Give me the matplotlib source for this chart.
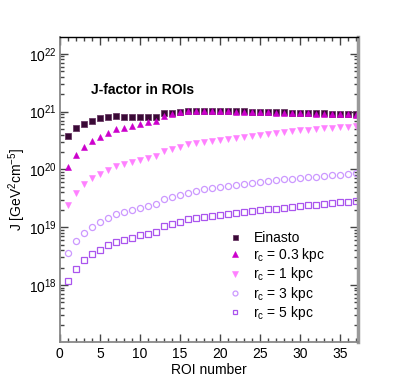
import numpy as np
import matplotlib
matplotlib.use('Agg')
import matplotlib.pyplot as plt
from matplotlib.ticker import LogLocator, MultipleLocator, NullFormatter

plt.rcParams['font.family'] = ['Liberation Sans', 'DejaVu Sans']
plt.rcParams['mathtext.fontset'] = 'custom'
plt.rcParams['mathtext.rm'] = 'Liberation Sans'
plt.rcParams['mathtext.it'] = 'Liberation Sans:italic'

# J-factor per ROI (GeV^2 cm^-5)
roi = np.arange(1, 38)
einasto = [3.85e20, 5.2e20, 6.2e20, 7.0e20, 7.6e20, 8.0e20, 8.3e20, 8.2e20, 8.1e20, 8.2e20,
           8.2e20, 8.2e20, 9.55e20, 9.6e20, 9.8e20, 1.03e21, 1.03e21, 1.03e21, 1.03e21, 1.03e21,
           1.02e21, 1.01e21, 1.01e21, 9.9e20, 9.9e20, 9.8e20, 9.7e20, 9.7e20, 9.5e20, 9.4e20,
           9.4e20, 9.3e20, 9.3e20, 9.2e20, 9.2e20, 9.05e20, 8.93e20]
rc03 = [1.1e20, 1.75e20, 2.4e20, 3.07e20, 3.65e20, 4.3e20, 4.97e20, 5.3e20, 5.6e20, 6.1e20,
        6.5e20, 6.75e20, 8.4e20, 9.0e20, 9.7e20, 1.01e21, 1.02e21, 1.02e21, 1.02e21, 1.02e21,
        1.01e21, 1.0e21, 1.0e21, 9.8e20, 9.8e20, 9.7e20, 9.6e20, 9.6e20, 9.4e20, 9.3e20,
        9.3e20, 9.2e20, 9.2e20, 9.1e20, 9.1e20, 9.0e20, 8.85e20]
rc1 = [2.43e19, 3.94e19, 5.5e19, 6.97e19, 8.4e19, 9.9e19, 1.14e20, 1.24e20, 1.32e20, 1.44e20,
       1.55e20, 1.68e20, 2.08e20, 2.25e20, 2.46e20, 2.72e20, 2.89e20, 3.01e20, 3.11e20, 3.26e20,
       3.41e20, 3.55e20, 3.70e20, 3.85e20, 4.01e20, 4.17e20, 4.29e20, 4.46e20, 4.58e20, 4.77e20,
       4.90e20, 5.03e20, 5.16e20, 5.30e20, 5.45e20, 5.52e20, 5.6e20]
rc3 = [3.56e18, 5.8e18, 7.9e18, 1.0e19, 1.23e19, 1.44e19, 1.67e19, 1.81e19, 1.96e19, 2.13e19,
       2.32e19, 2.5e19, 3.07e19, 3.35e19, 3.6e19, 3.95e19, 4.22e19, 4.55e19, 4.8e19, 5.0e19,
       5.2e19, 5.41e19, 5.63e19, 5.86e19, 6.02e19, 6.27e19, 6.44e19, 6.70e19, 6.88e19, 7.07e19,
       7.26e19, 7.46e19, 7.66e19, 7.87e19, 8.08e19, 8.30e19, 8.51e19]
rc5 = [1.19e18, 1.92e18, 2.65e18, 3.37e18, 4.06e18, 4.83e18, 5.6e18, 6.06e18, 6.49e18, 7.2e18,
       7.7e18, 8.2e18, 1.03e19, 1.13e19, 1.23e19, 1.37e19, 1.44e19, 1.51e19, 1.57e19, 1.65e19,
       1.71e19, 1.76e19, 1.84e19, 1.88e19, 1.96e19, 2.04e19, 2.10e19, 2.18e19, 2.24e19, 2.30e19,
       2.37e19, 2.46e19, 2.53e19, 2.60e19, 2.70e19, 2.77e19, 2.89e19]

fig = plt.figure(figsize=(3.99, 3.80), dpi=100)
ax = fig.add_axes([0.150, 0.101, 0.747, 0.802])

ax.plot(roi, einasto, ls='none', marker='s', ms=4.5, mfc='#3a0a36', mec='#6a3a66', mew=0.6, label='Einasto')
ax.plot(roi, rc03, ls='none', marker='^', ms=4.8, mfc='#cc00cc', mec='#cc00cc', mew=0.4, label=r'r$_{\rm c}$ = 0.3 kpc')
ax.plot(roi, rc1, ls='none', marker='v', ms=4.8, mfc='#ff80ff', mec='#ff80ff', mew=0.4, label=r'r$_{\rm c}$ = 1 kpc')
ax.plot(roi, rc3, ls='none', marker='o', ms=4.4, mfc='none', mec='#cc99ff', mew=0.9, label=r'r$_{\rm c}$ = 3 kpc')
ax.plot(roi, rc5, ls='none', marker='s', ms=4.4, mfc='none', mec='#aa55ee', mew=0.9, label=r'r$_{\rm c}$ = 5 kpc')

ax.set_yscale('log')
ax.set_xlim(0, 37.25)
ax.set_ylim(10**17.018, 10**22.294)
ax.set_yticks([1e18, 1e19, 1e20, 1e21, 1e22])
ax.yaxis.set_minor_locator(LogLocator(base=10, subs=np.arange(2, 10), numticks=20))
ax.yaxis.set_minor_formatter(NullFormatter())
ax.xaxis.set_major_locator(MultipleLocator(5))
ax.xaxis.set_minor_locator(MultipleLocator(1))

ax.tick_params(which='both', direction='in', top=True, right=True, colors='#444444', labelcolor='black')
ax.tick_params(which='major', length=6, width=1, labelsize=10)
ax.tick_params(which='minor', length=3, width=1)
ax.tick_params(axis='y', pad=2)
ax.tick_params(axis='x', pad=4)

for side in ['left', 'bottom']:
    ax.spines[side].set_color('#888888')
    ax.spines[side].set_linewidth(1.3)
ax.spines['right'].set_color('#999999')
ax.spines['right'].set_linewidth(2.5)
ax.spines['top'].set_color('black')
ax.spines['top'].set_linewidth(1)

ax.set_xlabel('ROI number', fontsize=10, labelpad=1)
ax.set_ylabel(r'J [GeV$^{2}$cm$^{-5}$]', fontsize=10, labelpad=1)

ax.text(0.105, 0.825, 'J-factor in ROIs', transform=ax.transAxes, fontsize=10,
        fontweight='bold', va='center', ha='left')

ax.legend(loc='upper left', bbox_to_anchor=(0.54, 0.387), frameon=False, fontsize=10,
          borderpad=0, handlelength=1.0, handletextpad=0.85, labelspacing=0.1,
          markerscale=0.8)

fig.savefig('out.png', dpi=100)
